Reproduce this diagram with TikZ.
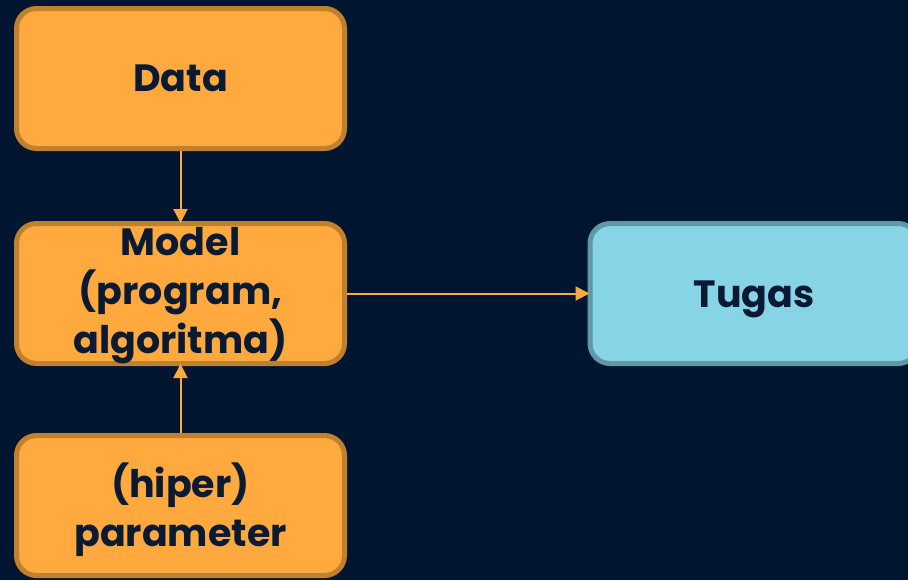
\documentclass[tikz,border=0pt]{standalone}
\usepackage{fontspec}
\setmainfont{Poppins}
\usepackage{tikz}
\usetikzlibrary{positioning,arrows.meta}
\definecolor{bgnavy}{HTML}{001530}
\definecolor{txtnavy}{HTML}{0A1A33}
\definecolor{boxorange}{HTML}{FFA93F}
\definecolor{edgeorange}{HTML}{C0812F}
\definecolor{boxblue}{HTML}{86D4E6}
\definecolor{edgeblue}{HTML}{5F99A8}
\tikzset{
boxtext/.style={
  align=center,
  text=txtnavy,
  inner sep=0pt,
  font=\bfseries\fontsize{19}{24.5}\selectfont
  },
mybox/.style={
  rectangle,
  rounded corners=10pt,
  line width=2.5pt,
  minimum width=164pt,
  minimum height=70pt,
  boxtext
  },
orangebox/.style={mybox, draw=edgeorange, fill=boxorange},
bluebox/.style={mybox, draw=edgeblue, fill=boxblue},
flow/.style={-{Triangle[width=7pt,length=7pt]}, draw=boxorange, line width=1pt}
}

\begin{document}
\begin{tikzpicture}[x=0.5pt, y=-0.5pt]
\fill[bgnavy] (0,0) rectangle (908,580);
\useasboundingbox (0,0) rectangle (908,580);
\clip (0,0) rectangle (908,580);

\node[orangebox,
  label={[boxtext]center:Data}]
  at (180.5,78.5) (data) {};

\node[orangebox,
  label={[boxtext, yshift=-1pt]center:{Model\\(program,\\algoritma)}}]
  at (180.5,293.5) (model) {};

\node[orangebox,
  label={[boxtext, yshift=-2pt]center:{(hiper)\\parameter}}]
  at (180.5,505.5) (param) {};

\node[bluebox,
  label={[boxtext, yshift=-2.8pt]center:Tugas}]
  at (754,293.5) (tugas) {};

\begin{scope}[shorten >= -1pt]
\draw[flow]
  (data.south) -- (model.north);
\draw[flow]
  (param.north) -- (model.south);
\draw[flow]
  (model.east) -- (tugas.west);
\end{scope}
\end{tikzpicture}
\end{document}
